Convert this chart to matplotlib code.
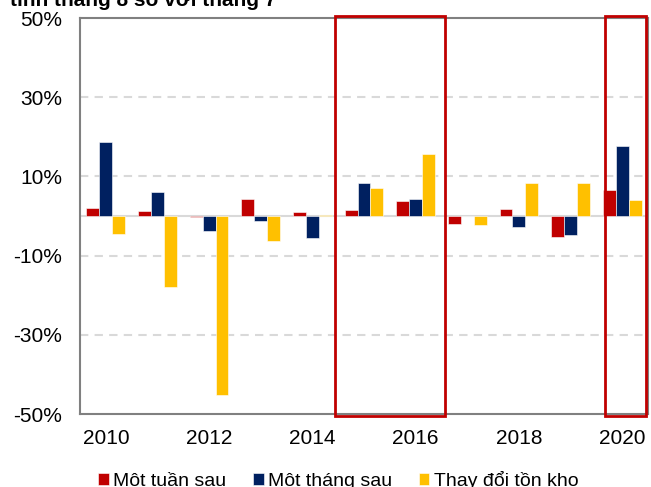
import matplotlib
matplotlib.use("Agg")
import matplotlib.pyplot as plt
from matplotlib.patches import Rectangle
import numpy as np

plt.rcParams['font.family'] = ['Liberation Sans', 'DejaVu Sans']

years = [2010, 2011, 2012, 2013, 2014, 2015, 2016, 2017, 2018, 2019, 2020]
mot_tuan_sau = [1.9, 1.2, -0.2, 4.3, 0.9, 1.6, 3.7, -1.9, 1.8, -5.4, 6.6]
mot_thang_sau = [18.8, 6.0, -3.9, -1.3, -5.6, 8.3, 4.4, -0.1, -2.8, -4.9, 17.7]
thay_doi_ton_kho = [-4.5, -18.0, -45.2, -6.2, 0.2, 7.1, 15.7, -2.3, 8.3, 8.3, 4.0]
series_names = ["Một tuần sau", "Một tháng sau", "Thay đổi tồn kho"]
colors = ["#C00000", "#002060", "#FFC000"]
yticks = [-50, -30, -10, 10, 30, 50]
xtick_years = [2010, 2012, 2014, 2016, 2018, 2020]
title = "tính tháng 8 so với tháng 7"

fig = plt.figure(figsize=(6.51, 4.87), dpi=100)
ax = fig.add_axes([80/651, 1-414/487, 568/651, 396/487])

x = np.arange(len(years))
w = 0.25
for i, (vals, name, c) in enumerate(zip([mot_tuan_sau, mot_thang_sau, thay_doi_ton_kho], series_names, colors)):
    ax.bar(x + (i - 1) * w, vals, width=w, color=c, label=name, zorder=3,
           edgecolor='white', linewidth=0.4)

ax.set_xlim(-0.5, len(years) - 0.5)
ax.set_ylim(-50, 50)
ax.set_yticks(yticks)
ax.set_yticklabels([f"{v}%" for v in yticks])
ax.set_xticks([years.index(y) for y in xtick_years])
ax.set_xticklabels([str(y) for y in xtick_years])
ax.tick_params(axis='both', length=0, labelsize=15, colors='black')
ax.tick_params(axis='y', pad=13)
ax.tick_params(axis='x', pad=11)

for v in [30, 10, -10, -30]:
    ax.axhline(v, color='#D9D9D9', linestyle=(0, (4, 3)), linewidth=1.5, zorder=1)
ax.axhline(0, color='#D9D9D9', linewidth=1.5, zorder=2)

for s in ax.spines.values():
    s.set_color('#808080')
    s.set_linewidth(1.5)

# highlight boxes
for x0, x1 in [(years.index(2015) - 0.57, years.index(2016) + 0.57),
               (years.index(2020) - 0.33, years.index(2020) + 0.47)]:
    ax.add_patch(Rectangle((x0, -50.5), x1 - x0, 101, fill=False,
                           edgecolor='#C00000', linewidth=2, zorder=5, clip_on=False))

ax.legend(loc='upper center', bbox_to_anchor=(0.455, -0.11), ncol=3, frameon=False,
          fontsize=14, handlelength=0.55, handleheight=0.55, handletextpad=0.25,
          columnspacing=1.35, borderpad=0.2)

fig.text(10/651, 1.0, title, fontsize=15, fontweight='bold', ha='left', va='center')

fig.savefig("out.png", dpi=100)
